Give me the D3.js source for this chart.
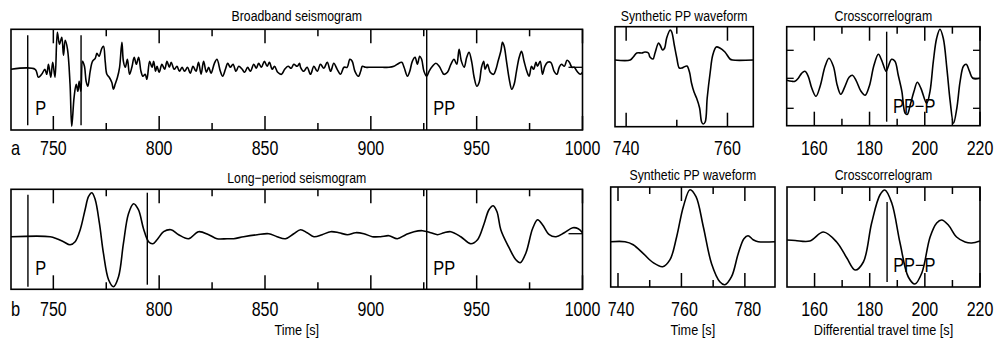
<!DOCTYPE html>
<html>
<head>
<meta charset="utf-8">
<script src="https://cdn.jsdelivr.net/npm/d3@7"></script>
<style>
  body { margin: 0; background: #fff; }
  svg text { font-family: "Liberation Sans", Arial, sans-serif; fill: #000; }
</style>
</head>
<body>
<svg id="chart" width="994" height="339"></svg>
<script>
// [time (s), amplitude] pairs
const broadband = [
  [730,0],[741.4,0],[742.9,-8],[744.5,-5],[746,0],[746.9,-5],[747.7,5],[748.8,-8],[749.7,7],[750.8,-8],
  [751.9,37],[752.9,25],[754,32],[754.8,14],[755.6,29],[756.7,20],[757.9,-15],[758.7,-57],[759.8,-28],
  [760.8,-15],[761.6,-22],[762.2,-12],[763,-22],[763.8,8],[764.7,3],[765.5,-12],[766.3,-17],[767.4,-2],
  [768.5,8],[769.8,11],[770.6,16],[771.6,13],[772.9,21],[773.7,23],[774.5,8],[775.3,-5],[776.4,-8],
  [777.6,-13],[778.4,-20],[779.2,-15],[780.3,-8],[781.3,2],[782.4,27],[783.1,8],[784,2],[785,10],
  [786,-5],[787.1,2],[788.2,12],[789.2,5],[790.3,12],[791.4,-2],[792.3,-7],[793.4,-5],[794.2,-10],
  [795.5,8],[796.6,2],[797.4,8],[798.3,-2],[799,3],[800,-3],[801.3,5],[802.6,0],[803.7,8],[804.8,2],
  [805.7,7],[807.1,0],[808.4,3],[809.6,-2],[810.8,2],[812,-2],[813.4,2],[814.7,-4],[816,3],[817.4,-2],
  [818.6,7],[819.8,-5],[821,8],[822.3,-3],[823.4,2],[824.5,-4],[826.1,6],[827.3,10],[828.9,-2],[830,-7],
  [831.3,0],[832.4,6],[833.6,2],[834.9,5],[836.3,-2],[837.6,3],[839.2,0],[840.4,-3],[841.8,2],[843.1,-2],
  [844.7,5],[845.9,1],[847,6],[848.3,2],[849.7,8],[851,3],[852.1,7],[853.4,0],[854.5,3],[856,-3],
  [857.8,-5],[859.3,0],[860.9,3],[862.4,1],[863.6,5],[865.2,3],[866.3,6],[866.8,2],[868.3,-2],[869.9,2],
  [871.5,-5],[873.1,3],[874.7,-2],[876.2,5],[877.8,1],[879.4,7],[881,-2],[882.5,6],[884.1,0],[885.7,-5],
  [887.3,2],[888.8,2],[890.1,10],[891.2,8],[892.5,-2],[894.1,-7],[895.2,-2],[896,3],[897.5,2],[899.1,2],
  [902.3,2],[905.4,2],[908.6,2],[910.9,3],[912.5,5],[914.6,7],[915.7,2],[917.3,-7],[918.4,-2],[919.6,8],
  [920.9,12],[922,5],[923.1,13],[924,10],[925.1,-2],[926.4,-7],[927.5,-2],[929.1,3],[930.7,6],[932.3,3],
  [933.8,-3],[934.5,-5],[936.2,-3],[937.8,5],[939.3,10],[940.6,5],[941.7,20],[942.8,8],[944.1,2],
  [945.3,12],[946.4,17],[947.7,7],[948.8,-8],[950.1,-17],[951.2,-13],[952.3,2],[953.3,8],[954,0],
  [955.1,5],[956.4,-3],[958,-5],[959.1,0],[960.1,8],[961.4,18],[962.2,27],[963,23],[964.1,8],[965.4,-10],
  [966.6,-20],[967.7,-15],[968.8,-2],[970.1,12],[971.2,18],[972.4,8],[973.7,-2],[974.8,-7],[975.9,3],
  [976.9,0],[978,7],[978.7,3],[980,8],[981.1,-5],[982.2,3],[983.5,7],[985,7],[986.6,-2],[987.9,-5],
  [989,2],[990.1,5],[991.4,3],[992.7,9],[993.8,7],[995,2],[996.1,2],[997.4,-2],[999,-5],[1000,-3]
];
const synthPPa = [
  [737.8,0],[740.8,0],[741.4,3],[742.1,7],[743.1,7],[743.7,8],[744.4,7],[744.7,3],[745.3,1],[745.7,7],
  [746.4,17],[746.7,15],[747.2,10],[747.6,12],[748,22],[748.7,30],[749,28],[749.5,15],[750,2],[750.5,-8],
  [751,-8],[751.4,-7],[752,-6],[752.5,-12],[752.9,-23],[753.4,-32],[753.9,-38],[754.5,-48],[754.9,-62],
  [755.2,-64],[755.6,-62],[756,-38],[756.6,-12],[757.1,5],[757.8,13],[758.5,12],[759.5,8],[760.5,1],
  [761,0],[765.1,0]
];
const xcorrA = [
  [150,-2],[151.8,-3],[153,-3],[154.2,0],[155.4,5],[156.6,7],[157.8,2],[159.1,-10],[160.6,-18],[162.1,-8],
  [163.9,12],[165.3,20],[166.9,12],[168.3,-7],[169.6,-16],[171.1,-8],[172.6,1],[173.8,3],[175.1,-2],
  [176.9,-13],[178.4,-17],[179.9,-8],[181.6,13],[183.2,24],[184.4,18],[186,7],[186.8,12],[188,19],
  [189.2,17],[190.4,3],[191.7,-13],[192.9,-35],[193.7,-36],[194.7,-27],[196.1,-13],[197.3,-4],[198.6,-10],
  [200.7,-25],[201.9,-13],[203.1,17],[204.3,40],[205.5,49],[206.7,40],[208,10],[209.2,-23],[210.4,-45],
  [211.6,-30],[212.8,-3],[214,12],[215,14],[216.2,7],[217.4,0],[220,0]
];
const longPeriod = [
  [730,0],[748.5,0],[751.6,-2],[754.8,-5],[757.9,-8],[760.3,-5],[762.7,7],[765,27],[766.6,40],[768.2,44],
  [769.8,37],[771.8,13],[773.7,-17],[776.1,-43],[778.4,-50],[780.8,-40],[783.1,-7],[785.5,23],[787.9,33],
  [790.2,27],[792.6,8],[795,-5],[797,-7],[799,-3],[802.1,5],[805.6,7],[809.2,2],[813.9,-2],[818.6,5],
  [823.4,2],[827.3,-2],[832.1,-2],[835.2,-2],[839.9,0],[846.3,2],[851.8,3],[855.7,0],[859.7,-2],[863.6,3],
  [866.8,7],[869.9,4],[873.1,0],[877,2],[881,5],[884.9,4],[888.9,2],[892.8,4],[896.7,3],[900.7,0],
  [904.6,0],[908.6,1],[912.5,-2],[916.5,2],[920.4,5],[924.4,6],[928.3,4],[931.5,2],[934.6,4],[937.8,5],
  [942.5,0],[947.2,-7],[950.4,-3],[953.5,13],[955.8,27],[957.8,31],[959.6,25],[961.4,7],[965.3,-11],
  [968.5,-23],[970.6,-26],[973.3,-16],[976.4,8],[978.8,17],[981.1,12],[984.3,2],[987.5,0],[991.4,4],
  [995.4,9],[998,8],[1000,4]
];
const synthPPb = [
  [737.7,0],[742.2,0],[744.8,-3],[748,-12],[751.1,-21],[754.1,-25],[756.4,-18],[758.5,5],[760.6,35],
  [762.7,52],[764.6,45],[766.9,15],[769.5,-22],[772.1,-40],[773.7,-43],[775.8,-35],[777.9,-12],[779.7,3],
  [781,6],[782.6,2],[784.2,0],[789.5,0]
];
const xcorrB = [
  [150,0],[153,-0.5],[158.3,-1],[163.2,8],[168,-2],[171.7,-18],[174.7,-30],[177.7,-22],[180.7,17],
  [183.7,45],[185.5,50],[188,37],[191,-3],[194,-37],[196.4,-44],[198.9,-33],[201.9,3],[204.3,17],
  [206.1,20],[208.5,15],[211.5,3],[214.6,-2],[217,-3],[220,-1]
];

// tick values
const seisMajor = [750, 800, 850, 900, 950, 1000];
const seisMinor = [775, 825, 875, 925, 975];
const seisLabels = ["750", "800", "850", "900", "950", "1000"];
const synAMajor = [740, 760];
const synAMinor = [750];
const synBMajor = [740, 760, 780];
const synBMinor = [750, 770];
const xcMajor = [160, 180, 200, 220];
const xcMinor = [170, 190, 210];
const xcYTicks = [-30, 0, 28];

// vertical picks: [time, top amplitude, bottom amplitude]
const picksA = [[737.9, 34, -56], [763.1, 34, -56], [926.4, null, null]];
const picksB = [[738, 42, -50], [794.4, 44, -48], [926.4, null, null]];
const lagA = [186.2, 46.6, -43.4];
const lagB = [186.3, 38, -42];

const svg = d3.select("#chart");
const NARROW = 0.82;

// condensed text: the original lettering is a narrow sans
function txt(g, x, y, s, size, anchor) {
  return g.append("text")
    .attr("transform", `translate(${x},${y}) scale(${NARROW},1)`)
    .attr("text-anchor", anchor || "start")
    .attr("font-size", size)
    .text(s);
}

function panel(cfg) {
  const x = d3.scaleLinear().domain(cfg.xdom).range([cfg.x0, cfg.x1]);
  const y = d3.scaleLinear().domain(cfg.ydom).range([cfg.y1, cfg.y0]);
  const g = svg.append("g");

  g.append("rect")
    .attr("x", cfg.x0).attr("y", cfg.y0)
    .attr("width", cfg.x1 - cfg.x0).attr("height", cfg.y1 - cfg.y0)
    .attr("fill", "none").attr("stroke", "#000").attr("stroke-width", 1.6);

  // ticks inward, on top and bottom
  const addTicks = (vals, len) => {
    vals.forEach(v => {
      g.append("line").attr("x1", x(v)).attr("x2", x(v))
        .attr("y1", cfg.y0).attr("y2", cfg.y0 + len)
        .attr("stroke", "#000").attr("stroke-width", 1.5);
      g.append("line").attr("x1", x(v)).attr("x2", x(v))
        .attr("y1", cfg.y1).attr("y2", cfg.y1 - len)
        .attr("stroke", "#000").attr("stroke-width", 1.5);
    });
  };
  addTicks(cfg.major, 14);
  addTicks(cfg.minor, 7);

  (cfg.yticks || []).forEach(v => {
    g.append("line").attr("x1", cfg.x0).attr("x2", cfg.x0 + 7)
      .attr("y1", y(v)).attr("y2", y(v)).attr("stroke", "#000").attr("stroke-width", 1.3);
    g.append("line").attr("x1", cfg.x1).attr("x2", cfg.x1 - 7)
      .attr("y1", y(v)).attr("y2", y(v)).attr("stroke", "#000").attr("stroke-width", 1.3);
  });
  if (cfg.rightTick !== undefined) {
    g.append("line").attr("x1", cfg.x1).attr("x2", cfg.x1 - 14)
      .attr("y1", y(cfg.rightTick)).attr("y2", y(cfg.rightTick))
      .attr("stroke", "#000").attr("stroke-width", 1.3);
  }

  cfg.labels.forEach(d => txt(g, x(+d) + (cfg.labelShift || 0), cfg.labelY, d, 19.5, "middle"));

  const line = d3.line().x(d => x(d[0])).y(d => y(d[1])).curve(d3.curveCatmullRom.alpha(0.5));
  g.append("path").datum(cfg.data).attr("d", line)
    .attr("fill", "none").attr("stroke", "#000").attr("stroke-width", 1.6)
    .attr("stroke-linejoin", "round");

  (cfg.picks || []).forEach(p => {
    g.append("line").attr("x1", x(p[0])).attr("x2", x(p[0]))
      .attr("y1", p[1] === null ? cfg.y0 : y(p[1]))
      .attr("y2", p[2] === null ? cfg.y1 : y(p[2]))
      .attr("stroke", "#000").attr("stroke-width", 1.4);
  });
  (cfg.pickLabels || []).forEach(p => txt(g, x(p[0]), y(p[1]), p[2], 20));

  txt(g, (cfg.x0 + cfg.x1) / 2, cfg.titleY, cfg.title, 15, "middle");
  if (cfg.xlabel) {
    txt(g, (cfg.x0 + cfg.x1) / 2 + (cfg.xlabelShift || 0), 334.5, cfg.xlabel, 15.5, "middle");
  }
}

// a) broadband
panel({
  x0: 11, x1: 582.5, y0: 29.3, y1: 130, xdom: [730, 1000], ydom: [-60.7, 40],
  major: seisMajor, minor: seisMinor, labels: seisLabels, labelY: 155,
  data: broadband, picks: picksA, rightTick: 2,
  pickLabels: [[741.4, -45.7, "P"], [929.5, -45.7, "PP"]],
  title: "Broadband  seismogram", titleY: 21
});
panel({
  x0: 615, x1: 753.3, y0: 26.7, y1: 126.7, xdom: [737.8, 765.1], ydom: [-66.7, 33.3],
  major: synAMajor, minor: synAMinor, labels: ["740", "760"], labelY: 155,
  data: synthPPa, title: "Synthetic  PP  waveform", titleY: 21
});
panel({
  x0: 786.7, x1: 980, y0: 26.7, y1: 125.7, xdom: [150, 220], ydom: [-47.4, 51.6],
  major: xcMajor, minor: xcMinor, labels: ["160", "180", "200", "220"], labelY: 155,
  yticks: xcYTicks, data: xcorrA, picks: [lagA],
  pickLabels: [[188.5, -34.7, "PP\u2212P"]],
  title: "Crosscorrelogram", titleY: 21
});

// b) long period
panel({
  x0: 11, x1: 582.5, y0: 189.3, y1: 289.3, xdom: [730, 1000], ydom: [-52.6, 47.4],
  major: seisMajor, minor: seisMinor, labels: seisLabels, labelY: 316,
  data: longPeriod, picks: picksB, rightTick: 3,
  pickLabels: [[741.4, -38.3, "P"], [929.5, -38.3, "PP"]],
  title: "Long\u2212period  seismogram", titleY: 183, xlabel: "Time  [s]"
});
panel({
  x0: 610.7, x1: 775, y0: 187, y1: 287, xdom: [737.7, 789.5], ydom: [-45.3, 54.7],
  major: synBMajor, minor: synBMinor, labels: ["740", "760", "780"], labelY: 316, labelShift: 3,
  data: synthPPb, title: "Synthetic  PP  waveform", titleY: 180, xlabel: "Time  [s]"
});
panel({
  x0: 787, x1: 980, y0: 187, y1: 287, xdom: [150, 220], ydom: [-47, 53],
  major: xcMajor, minor: xcMinor, labels: ["160", "180", "200", "220"], labelY: 316,
  data: xcorrB, picks: [lagB], pickLabels: [[188.5, -32, "PP\u2212P"]],
  title: "Crosscorrelogram", titleY: 180, xlabel: "Differential  travel  time  [s]"
});

// panel letters
txt(svg, 11, 155, "a", 20);
txt(svg, 11, 316, "b", 20);
</script>
</body>
</html>
